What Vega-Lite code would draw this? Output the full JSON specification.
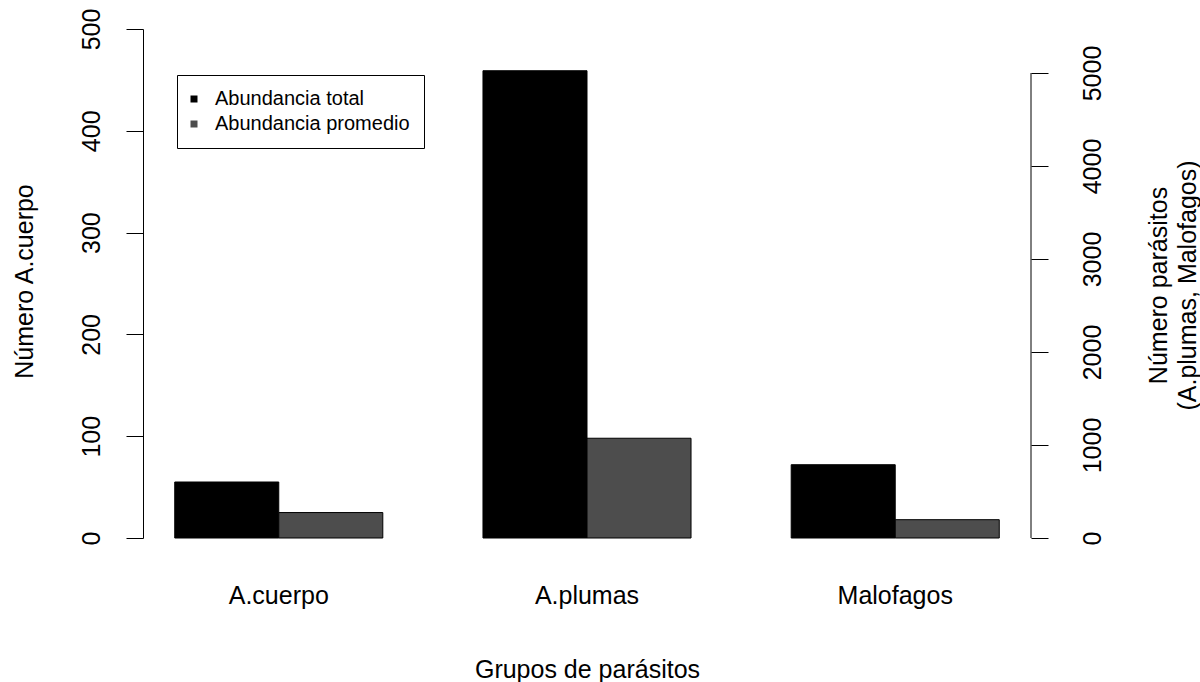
{
  "$schema": "https://vega.github.io/schema/vega-lite/v6.json",
  "autosize": {"type": "none"},
  "padding": {"left": 143, "top": 29, "right": 169, "bottom": 144},
  "width": 888,
  "height": 509,
  "background": "white",
  "config": {
    "view": {"stroke": null},
    "font": "Liberation Sans",
    "axis": {"grid": false, "labelColor": "black", "titleColor": "black", "domainColor": "black", "tickColor": "black", "titleFontWeight": "normal", "labelFont": "Liberation Sans", "titleFont": "Liberation Sans"}
  },
  "layer": [
    {
      "data": {"values": [
        {"grupo": "A.cuerpo", "serie": "Abundancia total", "valor": 55},
        {"grupo": "A.cuerpo", "serie": "Abundancia promedio", "valor": 25},
        {"grupo": "A.plumas", "serie": "Abundancia total", "valor": 459},
        {"grupo": "A.plumas", "serie": "Abundancia promedio", "valor": 98},
        {"grupo": "Malofagos", "serie": "Abundancia total", "valor": 72},
        {"grupo": "Malofagos", "serie": "Abundancia promedio", "valor": 18}
      ]},
      "mark": {"type": "bar", "stroke": "black", "strokeWidth": 1, "opacity": 1},
      "encoding": {
        "x": {
          "field": "grupo", "type": "nominal",
          "scale": {"domain": ["A.cuerpo", "A.plumas", "Malofagos"], "paddingInner": 0.325, "paddingOuter": 0.103},
          "axis": {"domain": false, "ticks": false, "tickSize": 0, "labelAngle": 0, "labelFontSize": 25, "labelBaseline": "alphabetic", "labelPadding": 65, "title": "Grupos de parásitos", "titleFontSize": 25, "titleBaseline": "alphabetic", "titleY": 139}
        },
        "xOffset": {
          "field": "serie", "type": "nominal",
          "scale": {"domain": ["Abundancia total", "Abundancia promedio"], "paddingInner": 0, "paddingOuter": 0}
        },
        "y": {
          "field": "valor", "type": "quantitative",
          "scale": {"domain": [0, 500], "nice": false, "zero": true},
          "axis": {"orient": "left", "values": [0, 100, 200, 300, 400, 500], "tickSize": 17, "labelFontSize": 25, "labelAngle": 270, "labelAlign": "center", "labelBaseline": "alphabetic", "labelPadding": 27, "labelFlush": false, "labelOverlap": false, "title": "Número A.cuerpo", "titleFontSize": 25, "titleAngle": 270, "titleAlign": "center", "titleBaseline": "alphabetic", "titleX": -111, "titleY": 252}
        },
        "color": {
          "field": "serie", "type": "nominal",
          "scale": {"domain": ["Abundancia total", "Abundancia promedio"], "range": ["#000000", "#4D4D4D"]},
          "legend": {"orient": "none", "legendX": 34, "legendY": 46, "title": null, "strokeColor": "black", "padding": 14, "symbolType": "square", "symbolSize": 49, "symbolStrokeWidth": 0, "symbolOpacity": 1, "symbolOffset": -7, "labelFontSize": 20, "labelFont": "Liberation Sans", "labelColor": "black", "labelOffset": 11, "labelLimit": 0, "rowPadding": 5, "fillColor": "white"}
        }
      }
    },
    {
      "data": {"values": [{"desde": 0, "hasta": 5000}]},
      "mark": {"type": "rule", "color": "black", "strokeWidth": 1},
      "encoding": {
        "x": {"datum": 1, "type": "quantitative", "scale": {"domain": [0, 1], "nice": false, "zero": true}, "axis": null},
        "y": {
          "field": "desde", "type": "quantitative",
          "scale": {"domain": [0, 5473], "nice": false, "zero": true},
          "axis": {"orient": "right", "domain": false, "values": [0, 1000, 2000, 3000, 4000, 5000], "format": "d", "tickSize": 17, "labelFontSize": 25, "labelAngle": 270, "labelAlign": "center", "labelBaseline": "alphabetic", "labelPadding": 52, "labelFlush": false, "labelOverlap": false, "title": ["Número parásitos", "(A.plumas, Malofagos)"], "titleFontSize": 25, "titleAngle": 270, "titleAlign": "center", "titleBaseline": "alphabetic", "titleLineHeight": 29, "titleX": 135, "titleY": 256}
        },
        "y2": {"field": "hasta"}
      }
    }
  ],
  "resolve": {"scale": {"y": "independent", "x": "independent"}, "axis": {"y": "independent", "x": "independent"}}
}
